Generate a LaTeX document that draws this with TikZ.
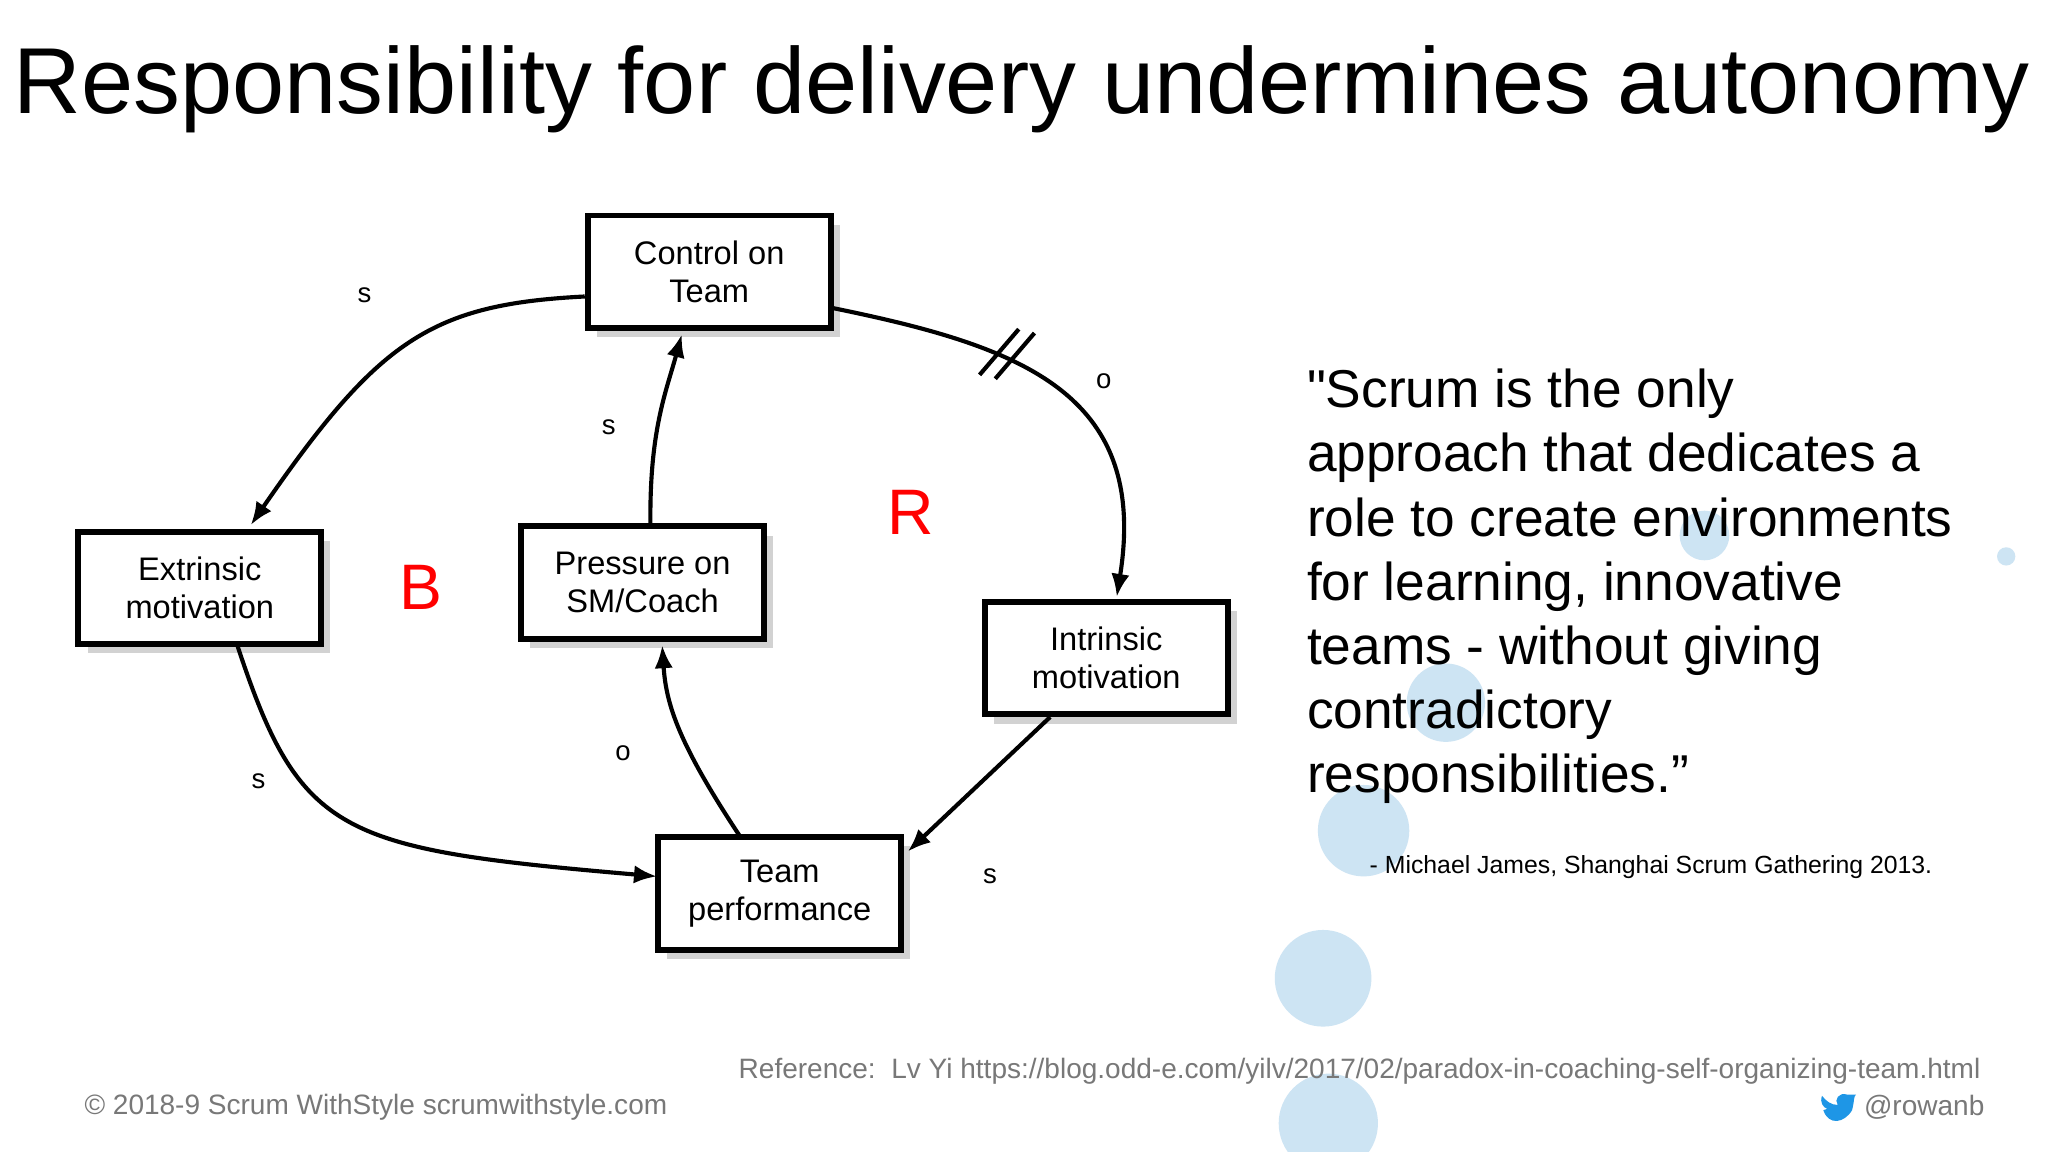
\documentclass[tikz,border=0pt]{standalone}
\usepackage{fontspec}
\setmainfont{Liberation Sans}
\usetikzlibrary{arrows.meta,shadows}
\definecolor{bub}{RGB}{205,228,243}
\definecolor{gr}{RGB}{120,120,120}
\definecolor{tw}{RGB}{30,150,230}
\begin{document}
\begin{tikzpicture}[x=0.01cm,y=-0.01cm,
 box/.style={draw,line width=1.3pt,fill=white,minimum width=186*0.01cm,minimum height=86*0.01cm,align=center,font=\fontsize{7.1}{8.3}\selectfont,drop shadow={opacity=0.35,shadow xshift=2pt,shadow yshift=-2pt}},
 con/.style={line width=0.9pt,-{Latex[length=5pt,width=4pt]}},
 lab/.style={font=\fontsize{6}{7}\selectfont}]
\useasboundingbox (0,0) rectangle (1568,882);
\fill[white] (0,0) rectangle (1568,882);
\fill[bub] (1013,749) circle (37);
\fill[bub] (1017,860) circle (38);
\fill[bub] (1044,636) circle (35);
\fill[bub] (1107,538) circle (30);
\fill[bub] (1305,410) circle (19);
\fill[bub] (1536,426) circle (7);
\node[anchor=west,inner sep=0pt,font=\fontsize{20.4}{22}\selectfont] (title) at (10,68) {Responsibility for delivery undermines autonomy};
\node[box] (ctl) at (543,208) {Control on\\Team};
\node[box] (ext) at (153,450) {Extrinsic\\motivation};
\node[box] (prs) at (492,446) {Pressure on\\SM/Coach};
\node[box] (int) at (847,504) {Intrinsic\\motivation};
\node[box] (tp) at (597,684) {Team\\performance};
\draw[con] (ctl.west|-0,227) .. controls (330,233) and (290,260) .. (192,402);
\draw[con] (ctl.east|-0,236) .. controls (780,265) and (880,300) .. (855,457);
\draw[line width=0.9pt] (750,287)--(780,252) (762,290)--(792,255);
\draw[con] (498,403) .. controls (497,330) and (510,300) .. (522,256);
\draw[con] (567,641) .. controls (520,570) and (510,540) .. (507,494);
\draw[con] (182,495) .. controls (230,640) and (260,650) .. (503,671);
\draw[con] (804,549) -- (695,652);
\node[lab] (l1) at (279,226) {s};
\node[lab] (l2) at (845,292) {o};
\node[lab] (l3) at (466,327) {s};
\node[lab] (l4) at (477,577) {o};
\node[lab] (l5) at (198,598) {s};
\node[lab] (l6) at (758,671) {s};
\node[text=red,font=\fontsize{14}{16}\selectfont] (B) at (322,450) {B};
\node[text=red,font=\fontsize{14}{16}\selectfont] (R) at (697,392) {R};
\node[anchor=north west,align=left,inner sep=0pt,font=\fontsize{11.6}{13.95}\selectfont] (q) at (1000,282) {\textquotedbl Scrum is the only\\approach that dedicates a\\role to create environments\\for learning, innovative\\teams - without giving\\contradictory\\responsibilities.”};
\node[anchor=west,inner sep=0pt,font=\fontsize{5.4}{7}\selectfont] (att) at (1048,664) {- Michael James, Shanghai Scrum Gathering 2013.};
\node[anchor=east,inner sep=0pt,text=gr,font=\fontsize{6.1}{7}\selectfont] (ref) at (1517,820) {Reference:\ \ Lv Yi https://blog.odd-e.com/yilv/2017/02/paradox-in-coaching-self-organizing-team.html};
\node[anchor=west,inner sep=0pt,text=gr,font=\fontsize{6.1}{7}\selectfont] (cp) at (64,848) {© 2018-9 Scrum WithStyle scrumwithstyle.com};
\node[anchor=east,inner sep=0pt,text=gr,font=\fontsize{6.1}{7}\selectfont] (twt) at (1520,848) {@rowanb};
\fill[tw] (1396,850) .. controls (1400,862) and (1412,860) .. (1418,850) .. controls (1420,842) and (1419,840) .. (1421,838) -- (1414,838) .. controls (1408,836) and (1404,842) .. (1407,846) .. controls (1402,846) and (1398,843) .. (1395,839) .. controls (1393,844) and (1396,848) .. (1399,849) -- cycle;
\end{tikzpicture}
\end{document}
